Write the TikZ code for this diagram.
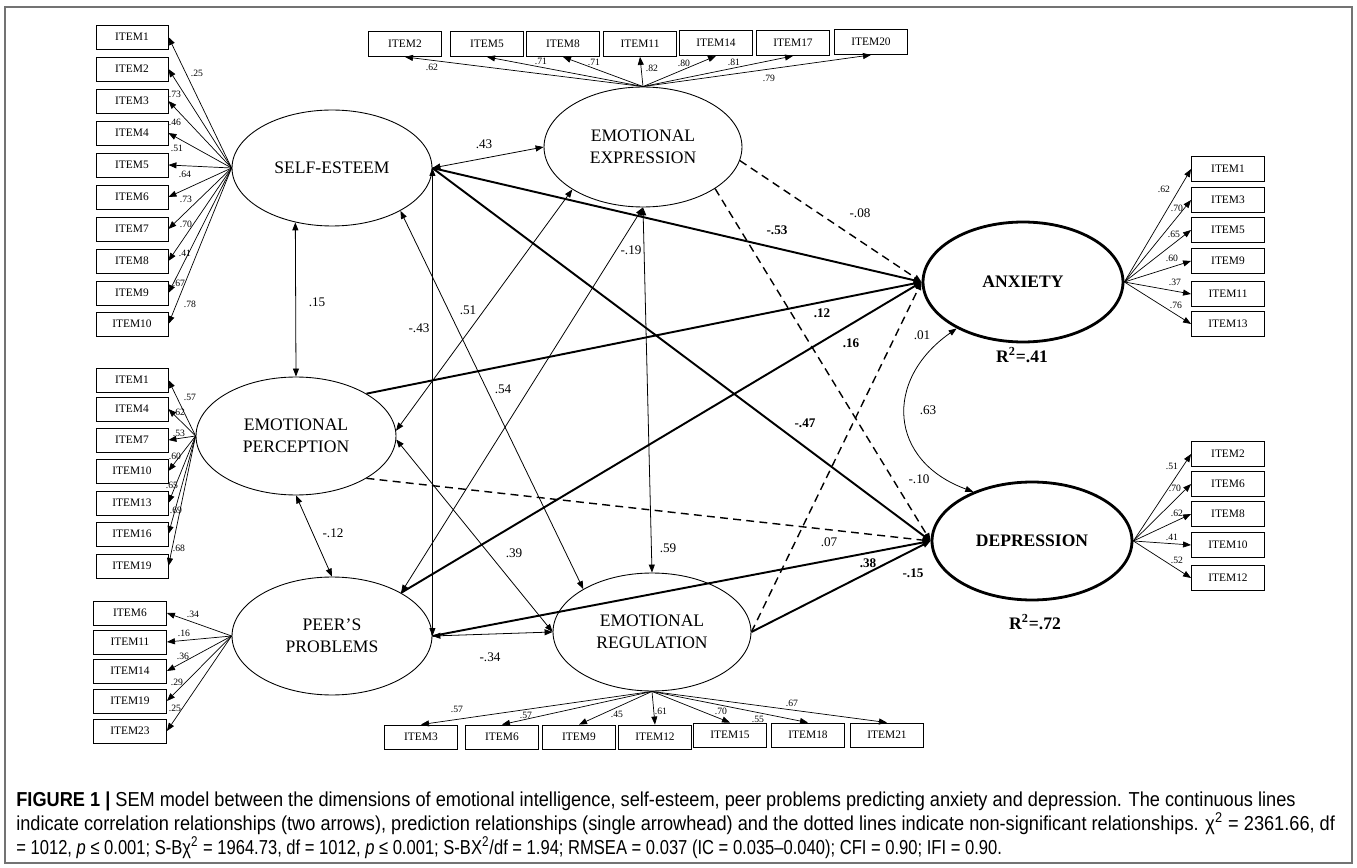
\documentclass[tikz,border=0pt]{standalone}
\usepackage{fontspec}
\setmainfont{Liberation Serif}
\newfontfamily\capfont{Liberation Sans}[FakeStretch=0.9]
\newfontfamily\capfontn{Liberation Sans}[FakeStretch=0.82]
\usetikzlibrary{shapes.geometric, arrows.meta, positioning}

\tikzset{
  latent/.style={ellipse, draw, line width=0.5pt, minimum width=4cm, minimum height=2.36cm,
                 inner sep=0pt, align=center, font=\fontsize{10}{12.5}\selectfont},
  outcome/.style={latent, line width=1.6pt, minimum height=2.4cm, font=\fontsize{10}{12}\selectfont\bfseries},
  item/.style={draw, line width=0.5pt, minimum width=1.44cm, minimum height=0.48cm,
               inner sep=0pt, font=\fontsize{6.5}{7}\selectfont},
  load/.style={->, line width=0.4pt},
  corr/.style={<->, line width=0.45pt},
  pred/.style={->, line width=1.1pt},
  nonsig/.style={->, line width=0.8pt, dash pattern=on 4.5pt off 3pt},
  lnum/.style={inner sep=0pt, font=\fontsize{5.5}{6}\selectfont},
  num/.style={inner sep=0pt, font=\fontsize{7.5}{8}\selectfont},
  bnum/.style={num, font=\fontsize{7.5}{8}\selectfont\bfseries},
  caption/.style={anchor=base west, inner sep=0pt, font=\capfont\fontsize{11.5}{13}\selectfont}
}

\begin{document}
\begin{tikzpicture}[x=0.02cm, y=-0.02cm, >={Triangle[length=1.6mm,width=1.2mm]}]
\useasboundingbox (0,0) rectangle (1357,868);
\draw[black!55, line width=0.6pt] (5,7) rectangle (1352,863);

% ---- Latent variables ---------------------------------------------------
\node[latent, minimum height=2.32cm] (se) at (332,168) {SELF-ESTEEM};
\node[latent] (ep) at (296,436) {EMOTIONAL\\PERCEPTION};
\node[latent] (pp) at (332,636) {PEER’S\\PROBLEMS};
\node[latent, minimum width=3.96cm, minimum height=2.4cm] (ee) at (643,147) {EMOTIONAL\\EXPRESSION};
\node[latent, minimum width=3.96cm] (er) at (652,632) {EMOTIONAL\\REGULATION};
\node[outcome] (anx) at (1023,282) {ANXIETY};
\node[outcome, minimum height=2.36cm] (dep) at (1032,541) {DEPRESSION};
\node[font=\fontsize{10}{12}\selectfont\bfseries] (r2a) at (1022,355) {R\textsuperscript{2}=.41};
\node[font=\fontsize{10}{12}\selectfont\bfseries] (r2d) at (1035,622) {R\textsuperscript{2}=.72};

% ---- Indicators ---------------------------------------------------------
\foreach \n/\y/\w/\lx/\ly [count=\i] in {1/37/.25/197/73, 2/69/.73/175/94, 3/101/.46/175/122,
    4/133/.51/177/148, 5/165/.64/185/174, 6/197/.73/186/199, 7/229/.70/186/224,
    8/261/.41/185/253, 9/293/.67/179/283, 10/324/.78/190/304}{
  \node[item] (se\i) at (132,\y) {ITEM\n};
  \draw[load] (se.west) -- (se\i.east);
  \node[lnum] (sel\i) at (\lx,\ly) {\w};
}
\foreach \n/\y/\w/\lx/\ly [count=\i] in {1/380/.57/190/397, 4/409/.62/179/412, 7/440/.53/179/433,
    10/471/.60/175/456, 13/503/.65/172/485, 16/534/.69/176/510, 19/566/.68/179/548}{
  \node[item] (ep\i) at (132,\y) {ITEM\n};
  \draw[load] (ep.west) -- (ep\i.east);
  \node[lnum] (epl\i) at (\lx,\ly) {\w};
}
\foreach \n/\y/\w/\lx/\ly [count=\i] in {6/613/.34/193/614, 11/642/.16/184/633, 14/671/.36/183/656,
    19/701/.29/177/682, 23/731/.25/175/708}{
  \node[item, minimum width=1.46cm] (pp\i) at (130,\y) {ITEM\n};
  \draw[load] (pp.west) -- (pp\i.east);
  \node[lnum] (ppl\i) at (\lx,\ly) {\w};
}
\foreach \n/\x/\y/\w/\lx/\ly [count=\i] in {2/405/44/.62/432/67, 5/487/44/.71/541/61,
    8/563/44/.71/594/62, 11/640/44/.82/652/68, 14/716/43/.80/684/63, 17/793/43/.81/734/62,
    20/871/42/.79/769/78}{
  \node[item, minimum width=1.46cm, minimum height=0.5cm] (ee\i) at (\x,\y) {ITEM\n};
  \draw[load] (ee.north) -- (ee\i.south);
  \node[lnum] (eel\i) at (\lx,\ly) {\w};
}
\foreach \n/\x/\y/\w/\lx/\ly [count=\i] in {3/421/737/.57/457/709, 6/502/737/.57/526/715,
    9/579/737/.45/617/714, 12/655/737/.61/661/711, 15/730/735/.70/721/711,
    18/808/735/.55/758/719, 21/887/735/.67/792/703}{
  \node[item, minimum width=1.46cm] (er\i) at (\x,\y) {ITEM\n};
  \draw[load] (er.south) -- (er\i.north);
  \node[lnum] (erl\i) at (\lx,\ly) {\w};
}
\foreach \n/\y/\w/\lx/\ly [count=\i] in {1/169/.62/1164/189, 3/200/.70/1177/208, 5/230/.65/1174/234,
    9/261/.60/1172/258, 11/294/.37/1175/282, 13/324/.76/1176/305}{
  \node[item, minimum width=1.46cm, minimum height=0.5cm] (anx\i) at (1228,\y) {ITEM\n};
  \draw[load] (anx.east) -- (anx\i.west);
  \node[lnum] (anxl\i) at (\lx,\ly) {\w};
}
\foreach \n/\y/\w/\lx/\ly [count=\i] in {2/454/.51/1172/466, 6/484/.70/1175/488, 8/514/.62/1177/513,
    10/545/.41/1172/537, 12/578/.52/1177/560}{
  \node[item, minimum width=1.46cm, minimum height=0.5cm] (dep\i) at (1228,\y) {ITEM\n};
  \draw[load] (dep.east) -- (dep\i.west);
  \node[lnum] (depl\i) at (\lx,\ly) {\w};
}

% ---- Correlations among predictors ---------------------------------------
\draw[corr] (se.east) -- (ee.west);
\draw[corr] (se.-124) -- (ep.north);
\draw[corr] (ep.south) -- (pp.north);
\draw[corr] (se.east) -- (pp.east);
\draw[corr] (ee.-149) -- (ep.3);
\draw[corr] (ee.south) -- (pp.32);
\draw[corr] (ee.south) -- (er.north);
\draw[corr] (se.-32) -- (er.148);
\draw[corr] (ep.-2) -- (er.west);
\draw[corr] (pp.east) -- (er.west);
\draw[corr] (anx.-145) to[out=215, in=160, looseness=1.4] (dep.140);

% ---- Predictions ----------------------------------------------------------
\draw[pred] (se.east) -- (anx.west);
\draw[pred] (se.east) -- (dep.west);
\draw[pred] (ep.31) -- (anx.west);
\draw[pred] (pp.32) -- (anx.west);
\draw[pred] (pp.east) -- (dep.west);
\draw[pred] (er.east) -- (dep.west);
\draw[nonsig] (ee.-8) -- (anx.west);
\draw[nonsig] (ee.-30) -- (dep.west);
\draw[nonsig] (ep.-31) -- (dep.west);
\draw[nonsig] (er.east) -- (anx.west);

% coefficients
\foreach \v/\x/\y [count=\k] in {.43/484/144, .15/317/302, -.12/333/533, -.43/419/328, .51/468/310,
    .54/503/389, -.19/631/250, .59/668/548, .39/514/553, -.34/490/657, -.08/860/213,
    .01/922/335, .63/928/410, -.10/919/479, .07/829/542}{
  \node[num] (c\k) at (\x,\y) {\v};
}
\foreach \v/\x/\y [count=\k] in {-.53/777/230, .12/822/313, .16/851/343, -.47/805/423,
    .38/868/563, -.15/913/573}{
  \node[bnum] (b\k) at (\x,\y) {\v};
}

% ---- Caption ----------------------------------------------------------------
\node[caption] (cap1) at (16,806) {\textbf{FIGURE 1 |} SEM model between the dimensions of emotional intelligence, self-esteem, peer problems predicting anxiety and depression. The continuous lines};
\node[caption] (cap2) at (16,830) {indicate correlation relationships (two arrows), prediction relationships (single arrowhead) and the dotted lines indicate non-significant relationships. χ\textsuperscript{2} = 2361.66, df};
\node[caption, font=\capfontn\fontsize{11.5}{13}\selectfont] (cap3) at (16,854) {= 1012, \textit{p} ≤ 0.001; S-Bχ\textsuperscript{2} = 1964.73, df = 1012, \textit{p} ≤ 0.001; S-BX\textsuperscript{2}/df = 1.94; RMSEA = 0.037 (IC = 0.035–0.040); CFI = 0.90; IFI = 0.90.};

\end{tikzpicture}
\end{document}
